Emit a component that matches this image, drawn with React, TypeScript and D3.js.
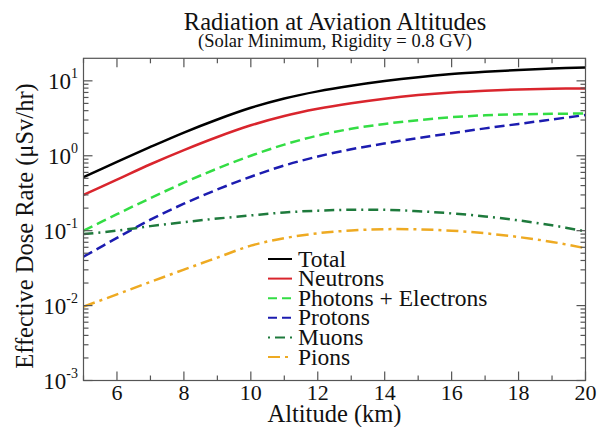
import React from 'react';
import * as d3 from 'd3';

const altitudes = [5, 6, 7, 8, 9, 10, 11, 12, 13, 14, 15, 16, 17, 18, 19, 20];
const total = [0.52, 0.826, 1.31, 2.04, 3.05, 4.37, 5.82, 7.24, 8.61, 9.95, 11.2, 12.3, 13.2, 14.0, 14.6, 15.1];
const neutrons = [0.30, 0.48, 0.77, 1.19, 1.78, 2.55, 3.4, 4.23, 5.02, 5.78, 6.45, 7.0, 7.4, 7.68, 7.85, 7.92];
const photons = [0.1, 0.166, 0.272, 0.437, 0.676, 1.0, 1.41, 1.86, 2.29, 2.66, 2.99, 3.27, 3.47, 3.57, 3.63, 3.67];
const protons = [0.045, 0.08, 0.14, 0.229, 0.355, 0.525, 0.741, 0.977, 1.22, 1.46, 1.72, 2.0, 2.32, 2.66, 3.05, 3.5];
const muons = [0.09, 0.1, 0.115, 0.13, 0.145, 0.16, 0.175, 0.185, 0.19, 0.19, 0.182, 0.17, 0.155, 0.137, 0.118, 0.098];
const pions = [0.0097, 0.0141, 0.0207, 0.0302, 0.0437, 0.0631, 0.0794, 0.0923, 0.1005, 0.1047, 0.1042, 0.1, 0.0923, 0.0822, 0.0708, 0.0582];

const seriesNames = ['Total', 'Neutrons', 'Photons + Electrons', 'Protons', 'Muons', 'Pions'];
const seriesValues = [total, neutrons, photons, protons, muons, pions];
const seriesColors = ['#000000', '#d9252d', '#33dd44', '#1c1cb0', '#1e7a3c', '#eeaa22'];
const seriesDash = [null, null, '10,5', '10,5', '10,5,2,5', '12,5,3,5'];
const legendDash = [null, null, '9,5', '9,5', '2,5,10,5', '12,5,3,5'];

const xMajorTicks = [6, 8, 10, 12, 14, 16, 18, 20];
const xMinorTicks = [5, 7, 9, 11, 13, 15, 17, 19];
const yExponents = [-3, -2, -1, 0, 1];

const W = 598;
const H = 427;
const L = 83.5;
const R = 585.5;
const T = 58.3;
const B = 380.5;
const FONT = "'Liberation Serif', 'Times New Roman', serif";
const txt = { fontFamily: FONT };

export default function App() {
  const x = d3.scaleLinear().domain([5, 20]).range([L, R]);
  const y = d3.scaleLog().domain([0.001, 20]).range([B, T]);

  const line = d3
    .line<number>()
    .x((_, i) => x(altitudes[i]))
    .y((d) => y(d))
    .curve(d3.curveCatmullRom.alpha(0.5));

  const yMinor: number[] = [];
  for (let e = -3; e <= 1; e++) {
    for (let k = 2; k <= 9; k++) {
      const v = k * Math.pow(10, e);
      if (v < 20) yMinor.push(v);
    }
  }

  const major = 9;
  const minor = 5;
  const frameColor = '#555';

  const legendX0 = 268;
  const legendX1 = 292;
  const legendY0 = 259;
  const legendStep = 19.6;

  return (
    <svg
      width={W}
      height={H}
      style={{ position: 'absolute', left: 0, top: 0, background: '#fff', fontFamily: FONT }}
    >
      <rect x={0} y={0} width={W} height={H} fill="#fff" />
      <text x={335} y={30} textAnchor="middle" fontSize={24.5} fill="#111" style={txt}>
        Radiation at Aviation Altitudes
      </text>
      <text x={335} y={47} textAnchor="middle" fontSize={18.5} fill="#111" style={txt}>
        (Solar Minimum, Rigidity = 0.8 GV)
      </text>

      <defs>
        <clipPath id="plotclip">
          <rect x={L} y={T} width={R - L} height={B - T} />
        </clipPath>
      </defs>

      {/* series */}
      <g clipPath="url(#plotclip)">
        {seriesValues.map((vals, i) => (
          <path
            key={seriesNames[i]}
            d={line(vals) || ''}
            fill="none"
            stroke={seriesColors[i]}
            strokeWidth={2.5}
            strokeDasharray={seriesDash[i] || undefined}
          />
        ))}
      </g>

      {/* frame */}
      <rect x={L} y={T} width={R - L} height={B - T} fill="none" stroke={frameColor} strokeWidth={1.2} />

      {/* x ticks */}
      {xMajorTicks.map((t) => (
        <g key={'xm' + t}>
          <line x1={x(t)} x2={x(t)} y1={B} y2={B - major} stroke={frameColor} strokeWidth={1.2} />
          <line x1={x(t)} x2={x(t)} y1={T} y2={T + major} stroke={frameColor} strokeWidth={1.2} />
          <text x={x(t)} y={400} textAnchor="middle" fontSize={22} fill="#111" style={txt}>
            {t}
          </text>
        </g>
      ))}
      {xMinorTicks.map((t) => (
        <g key={'xn' + t}>
          <line x1={x(t)} x2={x(t)} y1={B} y2={B - minor} stroke={frameColor} strokeWidth={1.2} />
          <line x1={x(t)} x2={x(t)} y1={T} y2={T + minor} stroke={frameColor} strokeWidth={1.2} />
        </g>
      ))}

      {/* y ticks */}
      {yExponents.map((e) => {
        const v = Math.pow(10, e);
        const yy = y(v);
        return (
          <g key={'ym' + e}>
            <line x1={L} x2={L + major} y1={yy} y2={yy} stroke={frameColor} strokeWidth={1.2} />
            <line x1={R} x2={R - major} y1={yy} y2={yy} stroke={frameColor} strokeWidth={1.2} />
            <text x={78} y={yy + 8} textAnchor="end" fontSize={23} fill="#111" style={txt}>
              10
              <tspan fontSize={14} dy={-11}>
                {e}
              </tspan>
            </text>
          </g>
        );
      })}
      {yMinor.map((v) => (
        <g key={'yn' + v}>
          <line x1={L} x2={L + minor} y1={y(v)} y2={y(v)} stroke={frameColor} strokeWidth={1.2} />
          <line x1={R} x2={R - minor} y1={y(v)} y2={y(v)} stroke={frameColor} strokeWidth={1.2} />
        </g>
      ))}

      {/* axis titles */}
      <text x={(L + R) / 2} y={422} textAnchor="middle" fontSize={24.5} fill="#111" style={txt}>
        Altitude (km)
      </text>
      <text
        transform={`translate(33, 226) rotate(-90)`}
        textAnchor="middle"
        fontSize={24.5}
        fill="#111"
        style={txt}
      >
        Effective Dose Rate (μSv/hr)
      </text>

      {/* legend */}
      {seriesNames.map((name, i) => {
        const ly = legendY0 + i * legendStep;
        return (
          <g key={'lg' + name}>
            <line
              x1={legendX0}
              x2={legendX1}
              y1={ly}
              y2={ly}
              stroke={seriesColors[i]}
              strokeWidth={2}
              strokeDasharray={legendDash[i] || undefined}
            />
            <text x={298} y={ly + 7.5} fontSize={23.5} fill="#111" style={txt}>
              {name}
            </text>
          </g>
        );
      })}
    </svg>
  );
}
